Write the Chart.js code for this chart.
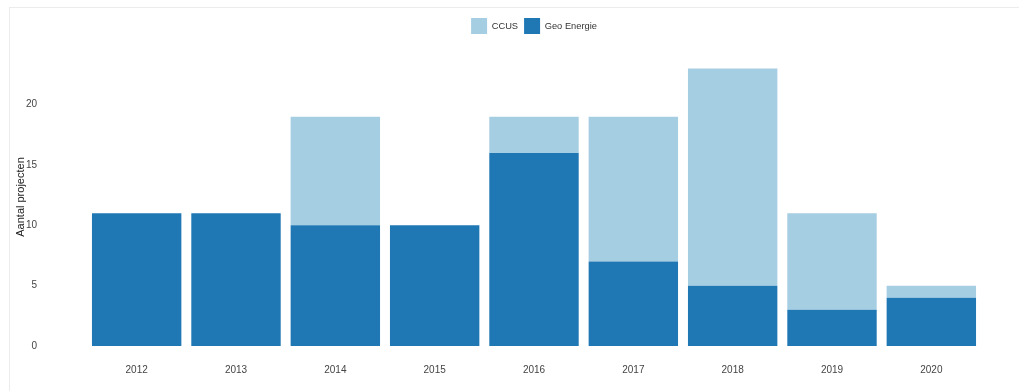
<!DOCTYPE html>
<html>
<head>
<meta charset="utf-8">
<script src="https://cdn.jsdelivr.net/npm/chart.js@4"></script>
<style>
  body { margin: 0; background: #fff; overflow: hidden; }
  #card { position: absolute; left: 9px; top: 7px; width: 1020px; height: 400px; border: 1px solid #ececec; }
  #barChart { position: absolute; left: 0; top: 0; }
</style>
</head>
<body>
<div id="card"></div>
<canvas id="barChart" width="1019" height="391"></canvas>
<script>
const years = ['2012', '2013', '2014', '2015', '2016', '2017', '2018', '2019', '2020'];
const geoEnergie = [11, 11, 10, 10, 16, 7, 5, 3, 4];
const ccus = [0, 0, 9, 0, 3, 12, 18, 8, 1];
const yTicks = [0, 5, 10, 15, 20];

// centre the legend above the plot area and nudge it up
const legendShift = {
    id: 'legendShift',
    afterLayout: chart => {
        let lg = chart.legend;
        let area = chart.chartArea;
        let dx = (area.left + area.right) / 2 - (lg.left + lg.right) / 2;
        let dy = -4;
        lg.left += dx;
        lg.right += dx;
        lg.top += dy;
        lg.bottom += dy;
        lg.legendHitBoxes.forEach(b => { b.left += dx; b.top += dy; });
    }
};

const ctx = document.getElementById('barChart').getContext('2d');
const barChart = new Chart(ctx, {
    type: 'bar',
    data: {
        labels: years,
        datasets: [
            {
                label: 'Geo Energie',
                data: geoEnergie,
                backgroundColor: '#1f78b4'
            },
            {
                label: 'CCUS',
                data: ccus,
                backgroundColor: '#a6cee3'
            }
        ]
    },
    plugins: [legendShift],
    options: {
        responsive: false,
        animation: false,
        layout: { padding: { top: 0, right: 38, bottom: 5, left: 14 } },
        datasets: { bar: { barPercentage: 0.9, categoryPercentage: 1.0 } },
        plugins: {
            legend: {
                position: 'top',
                reverse: true,
                labels: {
                    boxWidth: 16,
                    boxHeight: 16,
                    padding: 6,
                    color: '#333',
                    font: { family: 'Liberation Sans', size: 9.3 }
                }
            },
            tooltip: { enabled: false }
        },
        scales: {
            x: {
                stacked: true,
                grid: { display: false },
                border: { display: false },
                ticks: {
                    padding: 10,
                    color: '#444',
                    font: { family: 'Liberation Sans', size: 10 }
                }
            },
            y: {
                stacked: true,
                min: 0,
                max: 24.7,
                grid: { display: false },
                border: { display: false },
                afterBuildTicks: scale => {
                    scale.ticks = yTicks.map(v => ({ value: v }));
                },
                afterFit: scale => {
                    scale.width = 73;
                    // the wide tick padding should not push the plot bottom up
                    scale.paddingBottom = 6;
                },
                title: {
                    display: true,
                    text: 'Aantal projecten',
                    color: '#222',
                    padding: 0,
                    font: { family: 'Liberation Sans', size: 11 }
                },
                ticks: {
                    padding: 42,
                    color: '#444',
                    font: { family: 'Liberation Sans', size: 10 }
                }
            }
        }
    }
});
</script>
</body>
</html>
